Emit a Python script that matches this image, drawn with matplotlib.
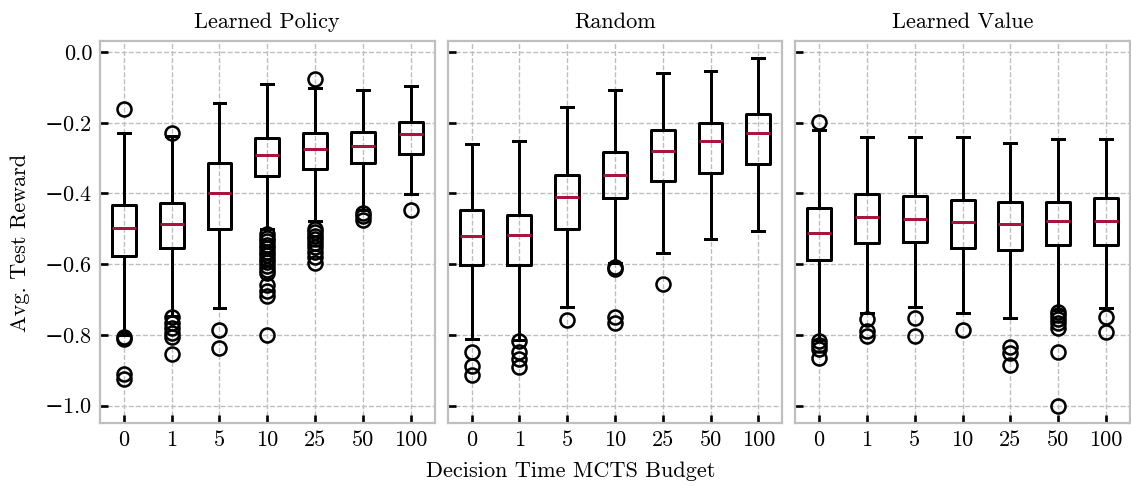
import matplotlib
matplotlib.use('Agg')
import matplotlib.pyplot as plt
from matplotlib.ticker import FuncFormatter
import numpy as np

plt.rcParams['font.family'] = ['cmr10', 'DejaVu Serif']
plt.rcParams['mathtext.fontset'] = 'dejavuserif'
plt.rcParams['font.size'] = 10

# Бюджети MCTS
budgets = ['0', '1', '5', '10', '25', '50', '100']
titles = ['Learned Policy', 'Random', 'Learned Value']

# Learned Policy
lp_med = [-0.499, -0.486, -0.399, -0.292, -0.274, -0.267, -0.233]
lp_q1 = [-0.576, -0.555, -0.501, -0.350, -0.331, -0.315, -0.289]
lp_q3 = [-0.432, -0.426, -0.313, -0.244, -0.230, -0.225, -0.198]
lp_lo = [-0.800, -0.746, -0.724, -0.500, -0.477, -0.448, -0.402]
lp_hi = [-0.228, -0.237, -0.143, -0.090, -0.101, -0.107, -0.096]
lp_fliers = [
    [-0.162, -0.805, -0.812, -0.910, -0.926],
    [-0.229, -0.750, -0.765, -0.780, -0.795, -0.805, -0.853],
    [-0.787, -0.837],
    [-0.515, -0.525, -0.535, -0.545, -0.555, -0.565, -0.575, -0.585,
     -0.595, -0.605, -0.615, -0.625, -0.660, -0.675, -0.690, -0.800],
    [-0.076, -0.500, -0.510, -0.520, -0.530, -0.540, -0.550, -0.565, -0.580, -0.598],
    [-0.455, -0.465, -0.475],
    [-0.448],
]

# Random
rd_med = [-0.519, -0.518, -0.409, -0.347, -0.279, -0.252, -0.228]
rd_q1 = [-0.602, -0.602, -0.501, -0.414, -0.366, -0.341, -0.318]
rd_q3 = [-0.446, -0.460, -0.347, -0.282, -0.220, -0.200, -0.176]
rd_lo = [-0.811, -0.814, -0.722, -0.597, -0.567, -0.528, -0.506]
rd_hi = [-0.261, -0.252, -0.156, -0.107, -0.058, -0.054, -0.018]
rd_fliers = [
    [-0.847, -0.889, -0.912],
    [-0.818, -0.848, -0.869, -0.891],
    [-0.759],
    [-0.607, -0.613, -0.750, -0.766],
    [-0.655],
    [],
    [],
]

# Learned Value
lv_med = [-0.511, -0.466, -0.472, -0.482, -0.486, -0.478, -0.477]
lv_q1 = [-0.589, -0.541, -0.536, -0.555, -0.559, -0.547, -0.547]
lv_q3 = [-0.440, -0.402, -0.406, -0.418, -0.423, -0.424, -0.414]
lv_lo = [-0.814, -0.738, -0.722, -0.738, -0.753, -0.729, -0.724]
lv_hi = [-0.220, -0.240, -0.240, -0.240, -0.258, -0.247, -0.247]
lv_fliers = [
    [-0.199, -0.818, -0.828, -0.840, -0.866],
    [-0.755, -0.788, -0.802],
    [-0.752, -0.804],
    [-0.785],
    [-0.834, -0.851, -0.884],
    [-0.735, -0.745, -0.755, -0.765, -0.780, -0.847, -1.000],
    [-0.748, -0.793],
]

panels = [
    (lp_med, lp_q1, lp_q3, lp_lo, lp_hi, lp_fliers),
    (rd_med, rd_q1, rd_q3, rd_lo, rd_hi, rd_fliers),
    (lv_med, lv_q1, lv_q3, lv_lo, lv_hi, lv_fliers),
]


def fmt_tick(v, pos):
    s = f'{abs(v):.1f}'
    if v < -1e-9:
        return r'$-$' + s
    return s


fig, axes = plt.subplots(1, 3, sharey=True, figsize=(1131 / 160, 486 / 160), dpi=160)
fig.subplots_adjust(left=0.0884, right=0.999, top=0.9156, bottom=0.1296, wspace=0.039)

box_kw = dict(color='black', linewidth=1.35)
for ax, title, (med, q1, q3, lo, hi, fl) in zip(axes, titles, panels):
    stats = []
    for i in range(len(budgets)):
        stats.append(dict(med=med[i], q1=q1[i], q3=q3[i], whislo=lo[i],
                          whishi=hi[i], fliers=np.array(fl[i])))
    ax.bxp(stats, positions=np.arange(1, len(budgets) + 1), widths=0.5,
           boxprops=box_kw, whiskerprops=box_kw, capprops=box_kw,
           medianprops=dict(color='#a8163f', linewidth=1.35),
           flierprops=dict(marker='o', markerfacecolor='none',
                           markeredgecolor='black', markersize=6.3,
                           markeredgewidth=1.15))
    ax.set_xticks(np.arange(1, len(budgets) + 1))
    ax.set_xticklabels(budgets)
    ax.set_title(title, fontsize=10)
    ax.grid(True, linestyle='--', color='#bdbdbd', linewidth=0.6)
    ax.set_axisbelow(True)
    for s in ax.spines.values():
        s.set_color('#bfbfbf')
        s.set_linewidth(1.0)
    ax.tick_params(direction='in', length=3.5, width=1.2, color='black',
                   top=False, right=False)

axes[0].set_yticks(np.arange(-1.0, 0.01, 0.2))
axes[0].yaxis.set_major_formatter(FuncFormatter(fmt_tick))
fig.supxlabel('Decision Time MCTS Budget', x=0.505, fontsize=10)
fig.supylabel('Avg. Test Reward', x=0.009, fontsize=10)

plt.savefig('out.png', dpi=160)
